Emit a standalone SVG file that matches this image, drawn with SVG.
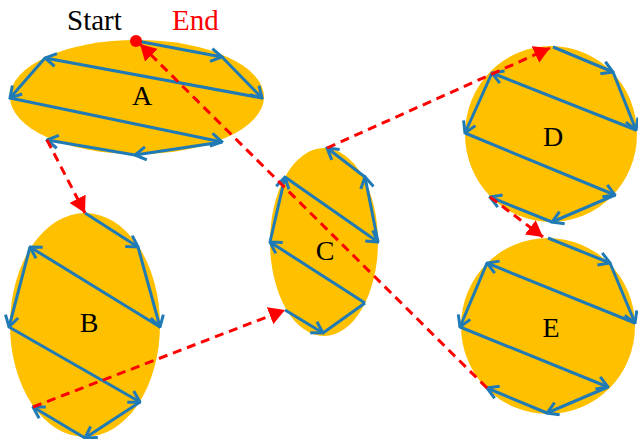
<svg xmlns="http://www.w3.org/2000/svg" width="638" height="439" viewBox="0 0 638 439">
<style>
.node{fill:#FFC000;}
.lbl{font-family:"Liberation Serif","Times New Roman",serif;font-size:28px;fill:#000;text-anchor:middle;}
.se{font-family:"Liberation Serif","Times New Roman",serif;font-size:29px;}
.b{stroke:#1F7AB5;stroke-width:3;fill:none;}
.ba{marker-end:url(#bh);}
.r{stroke:#FF0000;stroke-width:3;stroke-dasharray:9 6;fill:none;marker-end:url(#rh);}
.rt{stroke:#FF0000;stroke-width:0.6;stroke-opacity:0.15;fill:none;}
</style>
<defs>
<marker id="bh" viewBox="0 0 14 16" refX="12.5" refY="8" markerWidth="14" markerHeight="16" markerUnits="userSpaceOnUse" orient="auto">
<path d="M1.5,1.5 L12.5,8 L1.5,14.5" stroke="#1F7AB5" stroke-width="3" fill="none"/>
</marker>
<marker id="rh" viewBox="0 0 16 18" refX="16" refY="9" markerWidth="16" markerHeight="18" markerUnits="userSpaceOnUse" orient="auto">
<path d="M0,0 L16,9 L0,18 z" fill="#FF0000"/>
</marker>
</defs>
<g id="A">
<ellipse class="node" cx="137" cy="97" rx="127" ry="57"/>
<text class="lbl" x="142" y="105">A</text>
</g>
<g id="B">
<ellipse class="node" cx="85" cy="325" rx="75" ry="112"/>
<text class="lbl" x="89" y="332">B</text>
</g>
<g id="C">
<ellipse class="node" cx="324" cy="242" rx="54" ry="94"/>
<text class="lbl" x="325" y="260">C</text>
</g>
<g id="D">
<ellipse class="node" cx="551" cy="134" rx="86" ry="88"/>
<text class="lbl" x="553" y="146">D</text>
</g>
<g id="E">
<ellipse class="node" cx="548" cy="326" rx="87" ry="88"/>
<text class="lbl" x="551" y="337">E</text>
</g>
<g id="paths">
<line class="b ba" x1="137" y1="41" x2="222" y2="57"/>
<line class="b ba" x1="222" y1="57" x2="262" y2="98"/>
<line class="b ba" x1="262" y1="98" x2="45" y2="58"/>
<line class="b ba" x1="45" y1="58" x2="10" y2="98"/>
<line class="b ba" x1="10" y1="98" x2="222" y2="142"/>
<line class="b ba" x1="222" y1="142" x2="135" y2="155"/>
<line class="b ba" x1="135" y1="155" x2="47" y2="140"/>
<line class="b ba" x1="85" y1="213" x2="138" y2="247"/>
<line class="b ba" x1="138" y1="247" x2="160" y2="327"/>
<line class="b ba" x1="160" y1="327" x2="30" y2="247"/>
<line class="b ba" x1="30" y1="247" x2="9" y2="327"/>
<line class="b ba" x1="9" y1="327" x2="140" y2="402"/>
<line class="b ba" x1="140" y1="402" x2="85" y2="438"/>
<line class="b ba" x1="85" y1="438" x2="33" y2="407"/>
<line class="b ba" x1="285" y1="310" x2="323" y2="333"/>
<line class="b" x1="323" y1="333" x2="365" y2="303"/>
<line class="b ba" x1="365" y1="303" x2="270" y2="242"/>
<line class="b ba" x1="270" y1="242" x2="285" y2="177"/>
<line class="b ba" x1="285" y1="177" x2="378" y2="242"/>
<line class="b ba" x1="378" y1="242" x2="365" y2="177"/>
<line class="b ba" x1="365" y1="177" x2="327" y2="148"/>
<line class="b ba" x1="553" y1="47" x2="613" y2="72"/>
<line class="b ba" x1="613" y1="72" x2="636" y2="130"/>
<line class="b ba" x1="636" y1="130" x2="492" y2="73"/>
<line class="b ba" x1="492" y1="73" x2="465" y2="133"/>
<line class="b ba" x1="465" y1="133" x2="615" y2="195"/>
<line class="b ba" x1="615" y1="195" x2="552" y2="222"/>
<line class="b ba" x1="552" y1="222" x2="490" y2="197"/>
<line class="b ba" x1="548" y1="238" x2="610" y2="263"/>
<line class="b ba" x1="610" y1="263" x2="635" y2="323"/>
<line class="b ba" x1="635" y1="323" x2="487" y2="263"/>
<line class="b ba" x1="487" y1="263" x2="460" y2="327"/>
<line class="b ba" x1="460" y1="327" x2="608" y2="387"/>
<line class="b ba" x1="608" y1="387" x2="547" y2="413"/>
<line class="b ba" x1="547" y1="413" x2="487" y2="388"/>
</g>
<g id="connectors">
<line class="rt" x1="47" y1="140" x2="85" y2="213"/>
<line class="r" x1="47" y1="140" x2="85" y2="213"/>
<line class="rt" x1="33" y1="407" x2="285" y2="310"/>
<line class="r" x1="33" y1="407" x2="285" y2="310"/>
<line class="rt" x1="327" y1="148" x2="550" y2="48"/>
<line class="r" x1="327" y1="148" x2="550" y2="48"/>
<line class="rt" x1="490" y1="197" x2="543" y2="237"/>
<line class="r" x1="490" y1="197" x2="543" y2="237"/>
<line class="rt" x1="487" y1="388" x2="140" y2="44"/>
<line class="r" x1="487" y1="388" x2="140" y2="44"/>
</g>
<g id="startend">
<circle cx="136" cy="41" r="6" fill="#FF0000"/>
<text class="se" x="67" y="30" fill="#000000">Start</text>
<text class="se" x="172" y="30" fill="#FF0000">End</text>
</g>
</svg>
